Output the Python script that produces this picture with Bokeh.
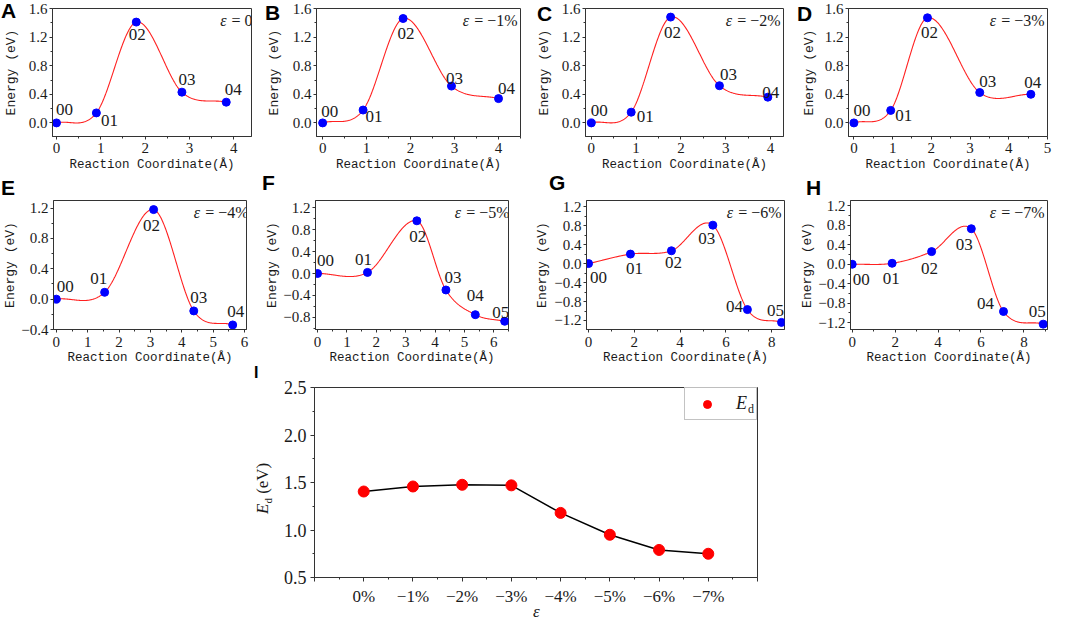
import numpy as np
from bokeh.plotting import figure
from bokeh.models import (Range1d, FixedTicker, Label, LabelSet, ColumnDataSource,
                          Legend, LegendItem, Spacer, Div)
from bokeh.layouts import row, column
from bokeh.embed import file_html
from bokeh.resources import INLINE

# ---------------- data ----------------
strain_text = ["0", "−1%", "−2%", "−3%", "−4%", "−5%", "−6%", "−7%"]
strain_categories = ["0%", "−1%", "−2%", "−3%", "−4%", "−5%", "−6%", "−7%"]
states5 = ["00", "01", "02", "03", "04"]
states6 = ["00", "01", "02", "03", "04", "05"]

a_x = [0.0, 0.90, 1.80, 2.83, 3.83]
a_y = [0.0, 0.14, 1.41, 0.43, 0.29]
b_x = [0.0, 0.92, 1.83, 2.93, 4.00]
b_y = [0.0, 0.18, 1.46, 0.515, 0.34]
c_x = [0.0, 0.89, 1.77, 2.86, 3.94]
c_y = [0.0, 0.15, 1.48, 0.52, 0.36]
d_x = [0.0, 0.95, 1.90, 3.25, 4.57]
d_y = [0.0, 0.175, 1.47, 0.425, 0.40]
e_x = [0.0, 1.54, 3.10, 4.38, 5.62]
e_y = [0.0, 0.09, 1.18, -0.155, -0.34]
f_x = [0.0, 1.70, 3.38, 4.37, 5.37, 6.37]
f_y = [0.0, 0.02, 0.96, -0.30, -0.75, -0.87]
g_x = [0.0, 1.83, 3.62, 5.43, 6.94, 8.43]
g_y = [0.0, 0.20, 0.27, 0.81, -0.97, -1.24]
h_x = [0.0, 1.86, 3.70, 5.55, 7.05, 8.90]
h_y = [0.0, 0.02, 0.26, 0.73, -0.97, -1.23]

ed_values = [1.405, 1.458, 1.476, 1.47, 1.18, 0.95, 0.79, 0.75]

# ---------------- helpers ----------------
def smooth_curve(xs, ys, per=80):
    """Piecewise cubic Hermite through the points (finite-difference tangents)."""
    x = np.asarray(xs, float)
    y = np.asarray(ys, float)
    n = len(x)
    m = np.empty(n)
    m[0] = (y[1] - y[0]) / (x[1] - x[0])
    m[-1] = (y[-1] - y[-2]) / (x[-1] - x[-2])
    m[1:-1] = (y[2:] - y[:-2]) / (x[2:] - x[:-2])
    ox, oy = [], []
    for i in range(n - 1):
        h = x[i + 1] - x[i]
        t = np.linspace(0, 1, per, endpoint=(i == n - 2))
        h00 = 2 * t ** 3 - 3 * t ** 2 + 1
        h10 = t ** 3 - 2 * t ** 2 + t
        h01 = -2 * t ** 3 + 3 * t ** 2
        h11 = t ** 3 - t ** 2
        ox.append(x[i] + t * h)
        oy.append(h00 * y[i] + h10 * h * m[i] + h01 * y[i + 1] + h11 * h * m[i + 1])
    return np.concatenate(ox), np.concatenate(oy)


def fmt(t, nd=1):
    return f"{t:.{nd}f}".replace("-", "−")


# approximate Liberation Serif advance widths (em) for the strain texts
_W = {"=": 0.564, " ": 0.25, "−": 0.564, "%": 0.833}


def serif_width(s, size):
    return sum(_W.get(ch, 0.5) for ch in s) * size


AX = "#333333"
TXT = "#1a1a1a"
SERIF = "Liberation Serif"
MONO = "Liberation Mono"
SANS = "Liberation Sans"


def style_axes(p, tick_size):
    p.grid.visible = False
    p.outline_line_color = AX
    p.outline_line_width = 1
    for ax in (p.xaxis[0], p.yaxis[0]):
        ax.axis_line_color = AX
        ax.major_tick_line_color = AX
        ax.minor_tick_line_color = AX
        ax.major_tick_out = 3
        ax.major_tick_in = 0
        ax.minor_tick_out = 2
        ax.minor_tick_in = 0
        ax.major_label_text_font = SERIF
        ax.major_label_text_font_size = tick_size
        ax.major_label_text_color = TXT
        ax.axis_label_text_color = TXT
    p.yaxis[0].major_label_standoff = 2


def inner_label(p, x, y, text, **kw):
    opts = dict(x=x, y=y, x_units="screen", y_units="screen", text=text,
                text_color=TXT, text_font=SERIF, text_font_size="16px",
                text_align="center", text_baseline="middle", level="overlay")
    opts.update(kw)
    p.add_layout(Label(**opts))


def frange(a, b, step):
    n = int(round((b - a) / step))
    return [round(a + i * step, 6) for i in range(n + 1)]


# ---------------- layout of the eight energy panels ----------------
panels = [
    dict(xs=a_x, ys=a_y, names=states5, strain=strain_text[0], w=262, bl=48, br=11,
         xr=(-0.09, 4.4), yr=(-0.19, 1.6), xt=[0, 1, 2, 3, 4], xm=0.5,
         yt=[0, 0.4, 0.8, 1.2, 1.6], ym=0.2, ysd=7,
         off=[(8, 13), (13, -8), (1, -12), (5, 13), (7, 13)]),
    dict(xs=b_x, ys=b_y, names=states5, strain=strain_text[1], w=268, bl=54, br=10,
         xr=(-0.14, 4.5), yr=(-0.19, 1.6), xt=[0, 1, 2, 3, 4], xm=0.5,
         yt=[0, 0.4, 0.8, 1.2, 1.6], ym=0.2, ysd=8,
         off=[(7, 11), (11, -6), (3, -15), (3, 8), (8, 10)]),
    dict(xs=c_x, ys=c_y, names=states5, strain=strain_text[2], w=265, bl=55, br=12,
         xr=(-0.13, 4.29), yr=(-0.19, 1.6), xt=[0, 1, 2, 3, 4], xm=0.5,
         yt=[0, 0.4, 0.8, 1.2, 1.6], ym=0.2, ysd=7,
         off=[(8, 12), (14, -4), (2, -15), (9, 11), (3, 5)]),
    dict(xs=d_x, ys=d_y, names=states5, strain=strain_text[3], w=270, bl=53, br=18,
         xr=(-0.14, 5.0), yr=(-0.19, 1.6), xt=[0, 1, 2, 3, 4, 5], xm=0.5,
         yt=[0, 0.4, 0.8, 1.2, 1.6], ym=0.2, ysd=5,
         off=[(8, 12), (13, -5), (2, -15), (8, 11), (2, 12)]),
    dict(xs=e_x, ys=e_y, names=states5, strain=strain_text[4], w=262, bl=48, br=16,
         xr=(-0.09, 6.06), yr=(-0.40, 1.30), xt=[0, 1, 2, 3, 4, 5, 6], xm=0.5,
         yt=[-0.4, 0, 0.4, 0.8, 1.2], ym=0.2, ysd=0,
         off=[(9, 13), (-6, 14), (-2, -16), (5, 13), (3, 13)]),
    dict(xs=f_x, ys=f_y, names=states6, strain=strain_text[5], w=268, bl=49, br=22,
         xr=(-0.07, 6.5), yr=(-1.02, 1.33), xt=[0, 1, 2, 3, 4, 5, 6], xm=0.5,
         yt=[-0.8, -0.4, 0, 0.4, 0.8, 1.2], ym=0.2, ysd=0,
         off=[(8, 13), (-4, 13), (1, -16), (7, 12), (0, 19), (-4, 9)]),
    dict(xs=g_x, ys=g_y, names=states6, strain=strain_text[6], w=265, bl=56, br=11,
         xr=(-0.09, 8.56), yr=(-1.39, 1.33), xt=[0, 2, 4, 6, 8], xm=1.0,
         yt=[-1.2, -0.8, -0.4, 0, 0.4, 0.8, 1.2], ym=0.2, ysd=1,
         off=[(10, -14), (4, -14), (2, -12), (-6, -13), (-13, 3), (-6, 12)]),
    dict(xs=h_x, ys=h_y, names=states6, strain=strain_text[7], w=270, bl=55, br=18,
         xr=(-0.08, 9.1), yr=(-1.34, 1.31), xt=[0, 2, 4, 6, 8], xm=1.0,
         yt=[-1.2, -0.8, -0.4, 0, 0.4, 0.8, 1.2], ym=0.2, ysd=0,
         off=[(9, -15), (-1, -15), (-2, -17), (-7, -16), (-18, 8), (-6, 13)]),
]
row_specs = [dict(h=174, bt=8, bb=37, lsd=3, asd=2),
             dict(h=193, bt=26, bb=37, lsd=4, asd=1)]

figs = []
for k, pc in enumerate(panels):
    rs = row_specs[k // 4]
    fw = pc["w"] - pc["bl"] - pc["br"]
    fh = rs["h"] - rs["bt"] - rs["bb"]
    p = figure(width=pc["w"], height=rs["h"], title=None,
               x_range=Range1d(*pc["xr"]), y_range=Range1d(*pc["yr"]),
               output_backend="svg", toolbar_location=None,
               min_border_left=pc["bl"], min_border_right=pc["br"],
               min_border_top=rs["bt"], min_border_bottom=rs["bb"])
    style_axes(p, "15px")
    xt = pc["xt"]
    xminor = [m for m in frange(xt[0] - pc["xm"], xt[-1] + pc["xm"], pc["xm"]) if m not in xt]
    p.xaxis[0].ticker = FixedTicker(ticks=xt, minor_ticks=xminor)
    p.xaxis[0].major_label_overrides = {t: str(t) for t in xt}
    p.xaxis[0].major_label_standoff = rs["lsd"]
    yt = pc["yt"]
    yminor = [m for m in frange(yt[0] - pc["ym"], yt[-1] + pc["ym"], pc["ym"])
              if all(abs(m - t) > 1e-6 for t in yt)]
    p.yaxis[0].ticker = FixedTicker(ticks=yt, minor_ticks=yminor)
    p.yaxis[0].major_label_overrides = {t: fmt(t) for t in yt}

    p.xaxis[0].axis_label = "Reaction Coordinate(Å)"
    p.xaxis[0].axis_label_text_font = MONO
    p.xaxis[0].axis_label_text_font_size = "12.5px"
    p.xaxis[0].axis_label_text_font_style = "normal"
    p.xaxis[0].axis_label_standoff = rs["asd"]
    p.yaxis[0].axis_label = "Energy (eV)"
    p.yaxis[0].axis_label_text_font = MONO
    p.yaxis[0].axis_label_text_font_size = "13px"
    p.yaxis[0].axis_label_text_font_style = "normal"
    p.yaxis[0].axis_label_standoff = pc["ysd"]

    sx, sy = smooth_curve(pc["xs"], pc["ys"])
    p.line(sx, sy, line_color="#FF2020", line_width=1.1)
    p.scatter(pc["xs"], pc["ys"], size=8, marker="circle", fill_color="#0000FF",
              line_color="#0000FF")

    src = ColumnDataSource(dict(x=pc["xs"], y=pc["ys"], t=pc["names"],
                                dx=[o[0] for o in pc["off"]], dy=[o[1] for o in pc["off"]]))
    p.add_layout(LabelSet(x="x", y="y", text="t", x_offset="dx", y_offset="dy", source=src,
                          text_font=SERIF, text_font_size="17px", text_color=TXT,
                          text_align="center", text_baseline="middle"))
    # strain annotation: italic epsilon + value
    rest = "= " + pc["strain"]
    inner_label(p, fw - 3, fh - 13, rest, text_align="right")
    inner_label(p, fw - 3 - serif_width(rest, 16) - 5, fh - 13, "ε", text_align="right",
                text_font_style="italic")
    figs.append(p)

# ---------------- panel I ----------------
iw, ih, ibl, ibr, ibt, ibb = 515, 252, 64, 8, 20, 42
ifw = iw - ibl - ibr
ifh = ih - ibt - ibb
n_cat = len(strain_categories)
idx = list(range(n_cat))
pi_ = figure(width=iw, height=ih, title=None,
             x_range=Range1d(-1, n_cat), y_range=Range1d(0.5, 2.5),
             output_backend="svg", toolbar_location=None,
             min_border_left=ibl, min_border_right=ibr,
             min_border_top=ibt, min_border_bottom=ibb)
style_axes(pi_, "18px")
pi_.xaxis[0].major_tick_out = 4
pi_.yaxis[0].major_tick_out = 4
pi_.xaxis[0].major_label_text_font_size = "17px"
major_x = list(range(-1, n_cat + 1))
pi_.xaxis[0].ticker = FixedTicker(ticks=major_x, minor_ticks=[i + 0.5 for i in range(-1, n_cat)])
over = {i: "" for i in major_x}
for i, lab in enumerate(strain_categories):
    over[i] = lab
pi_.xaxis[0].major_label_overrides = over
yt_i = [0.5, 1.0, 1.5, 2.0, 2.5]
pi_.yaxis[0].ticker = FixedTicker(ticks=yt_i, minor_ticks=[0.75, 1.25, 1.75, 2.25])
pi_.yaxis[0].major_label_overrides = {t: fmt(t) for t in yt_i}
pi_.yaxis[0].major_label_standoff = 4
pi_.xaxis[0].major_label_standoff = 5

pi_.line(idx, ed_values, line_color="black", line_width=1.5)
r_ed = pi_.scatter(idx, ed_values, size=11, marker="circle", fill_color="#FF0000",
                   line_color="#FF0000")
leg = Legend(items=[LegendItem(label="E", renderers=[r_ed])], location="top_right",
             margin=0, padding=5, spacing=0, glyph_width=34, glyph_height=20,
             label_standoff=12, label_width=15, label_height=20,
             border_line_color="#888888", border_line_width=1,
             label_text_font=SERIF, label_text_font_style="italic",
             label_text_font_size="18px", label_text_color=TXT)
pi_.add_layout(leg)

# ---------------- panel letters and composite texts (HTML overlays) ----------------
def letter_div(letter, left, top, size=21):
    html = (f'<div style="font: bold {size}px/{size}px \'{SANS}\'; color:#000; '
            f'margin:0; padding:0; white-space:nowrap">{letter}</div>')
    return Div(text=html, width=size + 6, height=size + 2,
               styles={"position": "absolute", "left": f"{left}px", "top": f"{top}px",
                       "margin": "0", "padding": "0", "z-index": "5"})


def text_div(html, left, top, w, h, extra=None):
    st = {"position": "absolute", "left": f"{left}px", "top": f"{top}px",
          "margin": "0", "padding": "0", "z-index": "6"}
    if extra:
        st.update(extra)
    return Div(text=html, width=w, height=h, styles=st)


letter_pos = [("A", 1, 0), ("B", 265, 2), ("C", 537, 3), ("D", 797, 3),
              ("E", 1, 177), ("F", 262, 172), ("G", 549, 172), ("H", 806, 177)]
overlays = [letter_div(t, x, y) for t, x, y in letter_pos]
overlays.append(letter_div("I", 254, 365, size=16))
# y title of panel I:  E_d (eV)
overlays.append(text_div(
    f'<div style="font: 17px/22px \'{SERIF}\'; color:{TXT}; text-align:center; '
    f'white-space:nowrap; margin:0; padding:0"><i>E</i>'
    f'<sub style="font-size:11px; line-height:0">d</sub>&nbsp;(eV)</div>',
    231, 471, 64, 22, {"transform": "rotate(-90deg)"}))
# x title of panel I:  ε
overlays.append(text_div(
    f'<div style="font: italic 17px/17px \'{SERIF}\'; color:{TXT}; margin:0; padding:0">ε</div>',
    533, 603, 12, 16))
# subscript of the legend entry
overlays.append(text_div(
    f'<div style="font: 12px/12px \'{SERIF}\'; color:{TXT}; margin:0; padding:0">d</div>',
    748, 401, 8, 12))

layout = column(row(*figs[:4]), row(*figs[4:]), row(Spacer(width=250, height=ih), pi_),
                *overlays)
open("out.html", "w").write(file_html(layout, INLINE))
